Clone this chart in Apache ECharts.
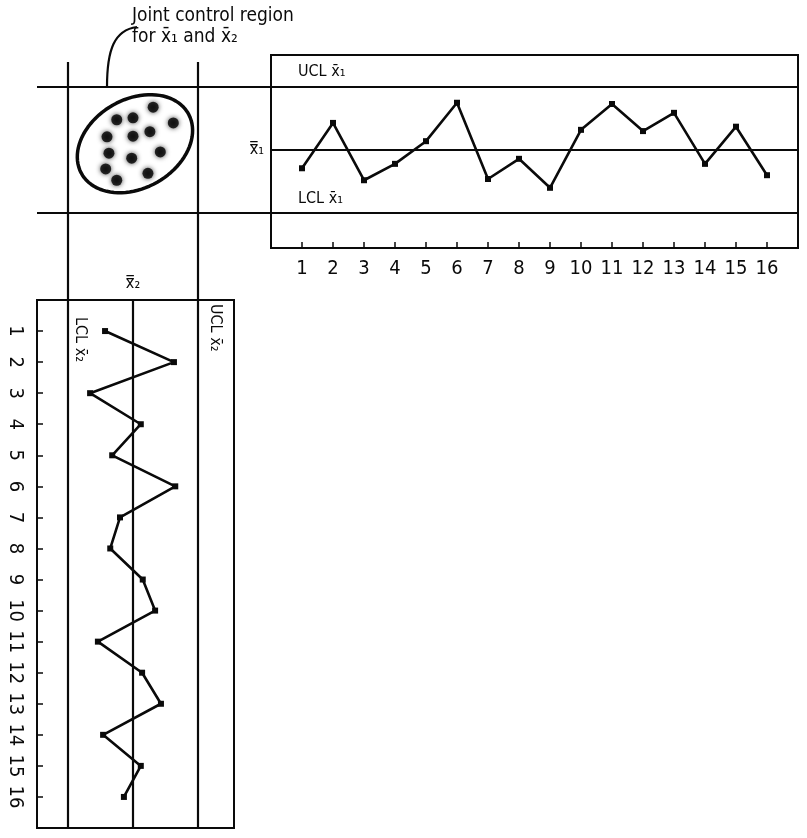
<!DOCTYPE html>
<html>
<head>
<meta charset="utf-8">
<script src="https://cdn.jsdelivr.net/npm/echarts@6/dist/echarts.min.js"></script>
<style>
html,body{margin:0;padding:0;background:#fff;}
#chart{width:807px;height:838px;}
</style>
</head>
<body>
<div id="chart"></div>
<script>
// ---- data ----
const samples = [1,2,3,4,5,6,7,8,9,10,11,12,13,14,15,16];
const tickLabels = ['1','2','3','4','5','6','7','8','9','10','11','12','13','14','15','16'];
const x1Values = [47.1,54.3,45.2,47.8,51.4,57.5,45.4,48.6,44.0,53.2,57.3,53.0,55.9,47.8,53.7,46.0];
const x2Values = [45.7,56.3,43.4,51.2,46.8,56.5,48.0,46.5,51.5,53.4,44.6,51.4,54.3,45.4,51.2,48.6];
const x1Limits = {ucl: 60, cl: 50, lcl: 40};
const x2Limits = {ucl: 60, cl: 50, lcl: 40};
const jointX2 = [53.1,47.5,50.0,56.2,46.0,50.0,52.6,46.3,49.8,54.2,45.8,47.5,52.3];
const jointX1 = [56.8,54.8,55.1,54.3,52.1,52.2,52.9,49.5,48.7,49.7,47.0,45.2,46.3];
const ellipseCenter = [50.3, 51.0];
const ellipseSemiAxes = [9.5, 7.0];
const ellipseTiltDeg = 32;

// ---- build ----
const FONT = "'DejaVu Sans Condensed','Liberation Sans Narrow','DejaVu Sans',sans-serif";
const BLACK = '#0a0a0a';

const ellipsePts = [];
(function(){
  const th = ellipseTiltDeg * Math.PI / 180;
  for (let k = 0; k <= 90; k++) {
    const t = k / 90 * Math.PI * 2;
    const u = ellipseSemiAxes[0] * Math.cos(t), v = ellipseSemiAxes[1] * Math.sin(t);
    ellipsePts.push([ellipseCenter[0] + u*Math.cos(th) - v*Math.sin(th),
                     ellipseCenter[1] + u*Math.sin(th) + v*Math.cos(th)]);
  }
})();

const lab = v => (v >= 1 && v <= 16 && Number.isInteger(v)) ? tickLabels[v-1] : '';

const chart = echarts.init(document.getElementById('chart'), null, {renderer:'canvas'});

const option = {
  animation: false,
  backgroundColor: '#fff',
  grid: [
    {left: 271, top: 55, width: 527, height: 193, show: true, borderColor: BLACK, borderWidth: 2, backgroundColor: 'transparent'},
    {left: 37, top: 62, width: 761, height: 766, show: false},
    {left: 37, top: 300, width: 197, height: 528, show: true, borderColor: BLACK, borderWidth: 2, backgroundColor: 'transparent'}
  ],
  xAxis: [
    {gridIndex: 0, type: 'value', min: 0, max: 17, interval: 1, position: 'bottom',
     axisLine: {show: false}, splitLine: {show: false},
     axisTick: {show: true, inside: true, length: 6, lineStyle: {color: BLACK, width: 1.5}},
     axisLabel: {show: true, margin: 11, formatter: lab, color: BLACK, fontSize: 20, fontFamily: FONT}},
    {gridIndex: 1, type: 'value', min: 35.231, max: 152.31, show: false},
    {gridIndex: 2, type: 'value', min: 35.231, max: 65.538, show: false}
  ],
  yAxis: [
    {gridIndex: 0, type: 'value', min: 34.444, max: 65.079, show: false},
    {gridIndex: 1, type: 'value', min: -57.619, max: 63.968, show: false},
    {gridIndex: 2, type: 'value', min: 0, max: 17, interval: 1, inverse: true, position: 'left',
     axisLine: {show: false}, splitLine: {show: false},
     axisTick: {show: true, inside: true, length: 6, lineStyle: {color: BLACK, width: 1.5}},
     axisLabel: {show: true, margin: 12, rotate: -90, formatter: lab, color: BLACK, fontSize: 20, fontFamily: FONT}}
  ],
  series: [
    {type: 'line', xAxisIndex: 0, yAxisIndex: 0,
     data: samples.map((s,i) => [s, x1Values[i]]),
     symbol: 'rect', symbolSize: 6, itemStyle: {color: BLACK},
     lineStyle: {color: BLACK, width: 2.6},
     markLine: {silent: true, symbol: 'none', label: {show: false},
       lineStyle: {color: BLACK, width: 2.2, type: 'solid'},
       data: [{yAxis: x1Limits.cl}]}},
    {type: 'line', xAxisIndex: 1, yAxisIndex: 1, data: [],
     markLine: {silent: true, symbol: 'none', label: {show: false},
       lineStyle: {color: BLACK, width: 2.2, type: 'solid'},
       data: [{yAxis: x1Limits.ucl}, {yAxis: x1Limits.lcl}, {xAxis: x2Limits.lcl}, {xAxis: x2Limits.ucl}]}},
    {type: 'line', xAxisIndex: 1, yAxisIndex: 1, data: ellipsePts, symbol: 'none',
     lineStyle: {color: BLACK, width: 3.5}},
    {type: 'scatter', xAxisIndex: 1, yAxisIndex: 1,
     data: jointX2.map((v,i) => [v, jointX1[i]]),
     symbol: 'circle', symbolSize: 11,
     itemStyle: {color: '#000', shadowBlur: 5, shadowColor: 'rgba(0,0,0,0.9)'}},
    {type: 'line', xAxisIndex: 2, yAxisIndex: 2,
     data: samples.map((s,i) => [x2Values[i], s]),
     symbol: 'rect', symbolSize: 6, itemStyle: {color: BLACK},
     lineStyle: {color: BLACK, width: 2.6},
     markLine: {silent: true, symbol: 'none', label: {show: false},
       lineStyle: {color: BLACK, width: 2.2, type: 'solid'},
       data: [{xAxis: x2Limits.cl}]}}
  ],
  graphic: [
    {type: 'text', left: 132, top: 7, style: {text: 'Joint control region', font: '19px ' + FONT, fill: BLACK}},
    {type: 'text', left: 132, top: 28, style: {text: 'for x\u0304\u2081 and x\u0304\u2082', font: '19px ' + FONT, fill: BLACK}},
    {type: 'bezierCurve', shape: {x1: 107, y1: 87, cpx1: 107, cpy1: 50, cpx2: 114, cpy2: 30, x2: 137, y2: 27},
     style: {stroke: BLACK, lineWidth: 2.2, fill: null}},
    {type: 'text', x: 298, y: 72, style: {text: 'UCL x\u0304\u2081', font: '16px ' + FONT, fill: BLACK, textVerticalAlign: 'middle'}},
    {type: 'text', x: 298, y: 199, style: {text: 'LCL x\u0304\u2081', font: '16px ' + FONT, fill: BLACK, textVerticalAlign: 'middle'}},
    {type: 'text', x: 264, y: 150, style: {text: 'x\u033F\u2081', font: '16px ' + FONT, fill: BLACK, textAlign: 'right', textVerticalAlign: 'middle'}},
    {type: 'text', x: 133, y: 284, style: {text: 'x\u033F\u2082', font: '16px ' + FONT, fill: BLACK, textAlign: 'center', textVerticalAlign: 'middle'}},
    {type: 'text', x: 80, y: 317, rotation: -Math.PI/2, style: {text: 'LCL x\u0304\u2082', font: '16px ' + FONT, fill: BLACK, textAlign: 'left', textVerticalAlign: 'middle'}},
    {type: 'text', x: 215, y: 304, rotation: -Math.PI/2, style: {text: 'UCL x\u0304\u2082', font: '16px ' + FONT, fill: BLACK, textAlign: 'left', textVerticalAlign: 'middle'}}
  ]
};
chart.setOption(option);
</script>
</body>
</html>
